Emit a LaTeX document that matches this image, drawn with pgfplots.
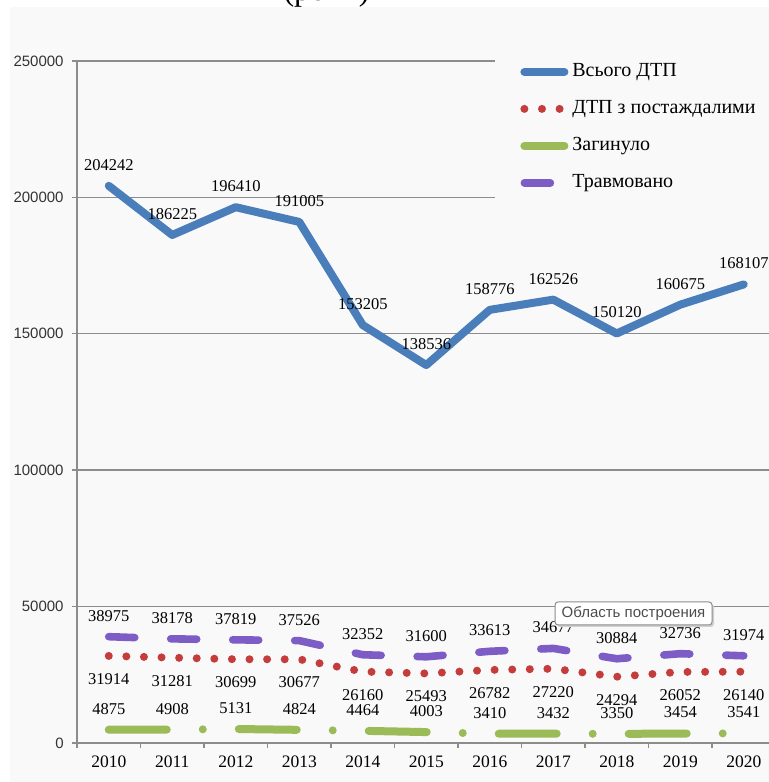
\documentclass[border=0pt]{standalone}
\usepackage{fontspec}
\setmainfont{Liberation Serif}
\setsansfont{Liberation Sans}
\usepackage{pgfplots}
\pgfplotsset{compat=1.18}
\definecolor{bgc}{HTML}{F9F9F9}
\definecolor{axc}{HTML}{8C8C8C}
\definecolor{c1}{HTML}{4A7EBB}
\definecolor{c2}{HTML}{C43C3C}
\definecolor{c3}{HTML}{9BBB59}
\definecolor{c4}{HTML}{7D5CC6}
\begin{document}
\begin{tikzpicture}
\fill[bgc] (5pt,0pt) rectangle (384.5pt,387.5pt);
\node[anchor=base, font=\fontsize{16}{19}\selectfont, inner sep=0pt] at (163.25pt,390.5pt) {(роки)};
\begin{axis}[
  at={(38.5pt,19.5pt)}, anchor=south west,
  scale only axis, width=349.25pt, height=341pt,
  xmin=-0.5, xmax=10.5, ymin=0, ymax=250000,
  axis x line*=bottom, axis y line*=left,
  axis line style={draw=axc, line width=0.7pt},
  ymajorgrids, grid style={draw=axc, line width=0.7pt},
  scaled y ticks=false,
  ytick={0,50000,100000,150000,200000,250000},
  minor ytick={0,50000,100000,150000,200000,250000},
  yticklabels={0,50000,100000,150000,200000,250000},
  yticklabel style={font=\sffamily\fontsize{7.5}{9}\selectfont, text=black!80, inner sep=1pt, xshift=-5.5pt},
  xtick={0,1,2,3,4,5,6,7,8,9,10},
  xticklabels={2010,2011,2012,2013,2014,2015,2016,2017,2018,2019,2020},
  xticklabel style={font=\fontsize{8.75}{10}\selectfont, text=black, yshift=-3pt},
  minor xtick={-0.5,0.5,1.5,2.5,3.5,4.5,5.5,6.5,7.5,8.5,9.5,10.5},
  tick align=outside, major tick length=0pt, minor tick length=2.5pt,
  tick style={draw=axc, line width=0.7pt},
  /pgf/number format/fixed, /pgf/number format/precision=0,
  /pgf/number format/1000 sep={}, /pgf/number format/assume math mode=true,
  legend image code/.code={\draw[#1] (0pt,0pt) -- (20pt,0pt);},
  legend style={at={(0.5984,1.0088)}, anchor=north west, fill=bgc, draw=none,
    inner xsep=12.5pt, inner ysep=3.5pt, font=\fontsize{10}{12}\selectfont,
    row sep=9pt, nodes={inner xsep=2pt, inner ysep=0pt, text height=7pt, text depth=2.5pt}},
  legend cell align=left,
  nodes near coords,
  every node near coord/.append style={font=\fontsize{8.25}{10}\selectfont, text=black, inner sep=0pt, anchor=center},
]
\addplot[c1, line width=4pt, line cap=round, line join=round,
  every node near coord/.append style={yshift=10.5pt}] coordinates {
  (0,204242) (1,186225) (2,196410) (3,191005) (4,153205) (5,138536)
  (6,158776) (7,162526) (8,150120) (9,160675) (10,168107)};
\addlegendentry{Всього ДТП}
\addplot[c2, line width=4pt, line cap=round, dash pattern=on 0pt off 8.8pt,
  every node near coord/.append style={yshift=-11.5pt}] coordinates {
  (0,31914) (1,31281) (2,30699) (3,30677) (4,26160) (5,25493)
  (6,26782) (7,27220) (8,24294) (9,26052) (10,26140)};
\addlegendentry{ДТП з постаждалими}
\addplot[c3, line width=4pt, line cap=round, line join=round, dash pattern=on 29pt off 18pt on 0pt off 18pt,
  every node near coord/.append style={yshift=10.5pt}] coordinates {
  (0,4875) (1,4908) (2,5131) (3,4824) (4,4464) (5,4003)
  (6,3410) (7,3432) (8,3350) (9,3454) (10,3541)};
\addlegendentry{Загинуло}
\addplot[c4, line width=3.8pt, line cap=round, line join=round, dash pattern=on 13pt off 18pt,
  every node near coord/.append style={yshift=10.5pt}] coordinates {
  (0,38975) (1,38178) (2,37819) (3,37526) (4,32352) (5,31600)
  (6,33613) (7,34677) (8,30884) (9,32736) (10,31974)};
\addlegendentry{Травмовано}
\end{axis}
\fill[black!18, rounded corners=1.5pt] (278.5pt,77.5pt) rectangle (357pt,89pt);
\draw[black!45, fill=white, rounded corners=1.5pt, line width=0.5pt] (277.5pt,78.5pt) rectangle (356pt,90pt);
\node[font=\sffamily\fontsize{7.5}{9}\selectfont, text=black!70, inner sep=0pt] at (316.75pt,84.25pt) {Область построения};
\pgfresetboundingbox
\useasboundingbox (0pt,0pt) rectangle (384.5pt,391pt);
\end{tikzpicture}
\end{document}
